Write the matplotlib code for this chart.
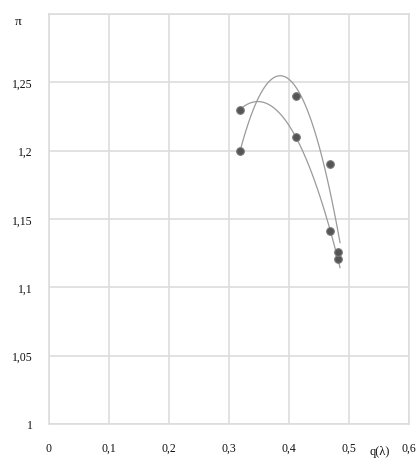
import numpy as np
import matplotlib
matplotlib.use("Agg")
import matplotlib.pyplot as plt

# data
x_pts = [0.318, 0.412, 0.468, 0.482]
series_a = [1.230, 1.210, 1.141, 1.121]
series_b = [1.200, 1.240, 1.190, 1.126]
x_ticks = [0, 0.1, 0.2, 0.3, 0.4, 0.5, 0.6]
x_labels = ["0", "0,1", "0,2", "0,3", "0,4", "0,5", "0,6"]
y_ticks = [1.0, 1.05, 1.1, 1.15, 1.2, 1.25, 1.3]
y_labels = ["1", "1,05", "1,1", "1,15", "1,2", "1,25", ""]

plt.rcParams['font.family'] = ['Liberation Serif', 'DejaVu Serif']

fig = plt.figure(figsize=(4.2, 4.6), dpi=100)
ax = fig.add_axes([49/420, 35/460, 360/420, 410/460])
ax.set_xlim(0, 0.6)
ax.set_ylim(1.0, 1.3)
ax.set_xticks(x_ticks)
ax.set_xticklabels(x_labels, fontsize=8.5)
ax.set_yticks(y_ticks)
ax.set_yticklabels(y_labels, fontsize=8.5)
ax.tick_params(length=0, pad=12, colors='#111111')
ax.tick_params(axis='x', pad=13)
ax.grid(True, color='#dddddd', linewidth=1.2)
for s in ax.spines.values():
    s.set_color('#dddddd')
    s.set_linewidth(1.2)

xs = np.linspace(0.318, 0.485, 100)
for ys in (series_a, series_b):
    c = np.polyfit(x_pts, ys, 2)
    ax.plot(xs, np.polyval(c, xs), color='#9a9a9a', linewidth=0.9, zorder=3)
    ax.scatter(x_pts, ys, s=30, color='#555555', zorder=4, edgecolors='#777777', linewidths=0.8)

ax.text(-0.045, 1.295, "π", fontsize=9.5, ha='right', va='center', color='#111111')
ax.text(0.551, -0.066, "q(λ)", transform=ax.get_xaxis_transform(), fontsize=9, ha='center', va='center', color='#111111')

fig.savefig("out.png", dpi=100)
